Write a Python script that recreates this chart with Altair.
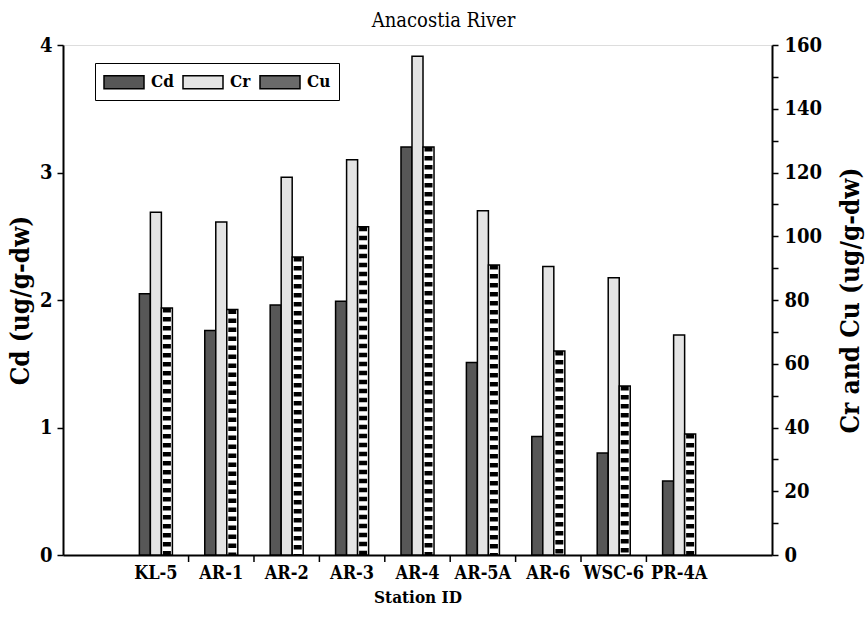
import altair as alt
import pandas as pd

stations = ["KL-5", "AR-1", "AR-2", "AR-3", "AR-4", "AR-5A", "AR-6", "WSC-6", "PR-4A"]
metals = ["Cd", "Cr", "Cu"]
offset_slots = ["_l", "Cd", "Cr", "Cu", "_r"]
cd_vals = [2.05, 1.76, 1.96, 1.99, 3.20, 1.51, 0.93, 0.80, 0.58]
cr_vals = [107.5, 104.5, 118.5, 124, 156.5, 108, 90.5, 87, 69]
cu_vals = [77.5, 77, 93.5, 103, 128, 91, 64, 53, 38]
left_ticks = [0, 0.5, 1, 1.5, 2, 2.5, 3, 3.5, 4]
right_ticks = list(range(0, 161, 10))

cd_df = pd.DataFrame({"station": stations, "metal": "Cd", "value": cd_vals})
rc_df = pd.DataFrame({"station": stations * 2,
                      "metal": ["Cr"] * len(stations) + ["Cu"] * len(stations),
                      "value": cr_vals + cu_vals})
cu_df = pd.DataFrame({"station": stations, "metal": "Cu", "value": cu_vals})
tick_df = pd.DataFrame({"station": stations[1:]})

FONT = "DejaVu Serif Condensed"
W, H = 709, 510

xscale = alt.Scale(domain=stations, paddingInner=0, paddingOuter=0.92)
xoff = alt.Scale(domain=offset_slots, paddingInner=0, paddingOuter=0.47)
xaxis = alt.Axis(title="Station ID", ticks=False, labelAngle=0, labelPadding=9,
                 labelFont=FONT, labelFontSize=18, labelFontWeight="bold", labelColor="black",
                 titleFont=FONT, titleFontSize=17, titleFontWeight="bold", titleColor="black",
                 titlePadding=7, domainColor="black", domainWidth=2)

def X(**kw):
    return alt.X("station:N", scale=xscale, sort=stations, axis=xaxis, **kw)

XO = alt.XOffset("metal:N", scale=xoff)

cd_layer = alt.Chart(cd_df).mark_bar(stroke="black", strokeWidth=1.5).encode(
    x=X(),
    xOffset=XO,
    y=alt.Y("value:Q", scale=alt.Scale(domain=[0, 4], nice=False),
            axis=alt.Axis(orient="left", values=left_ticks, format="d",
                          labelExpr="datum.value % 1 == 0 ? datum.label : ''",
                          title="Cd (ug/g-dw)", grid=False, tickSize=6, tickWidth=1.5,
                          tickColor="black", labelPadding=5,
                          labelFont=FONT, labelFontSize=20, labelFontWeight="bold",
                          labelColor="black", titleFont=FONT, titleFontSize=26,
                          titleFontWeight="bold", titleColor="black", titlePadding=6,
                          domainColor="black", domainWidth=2)),
    fill=alt.Fill("metal:N", scale=alt.Scale(domain=metals,
                                             range=["#575757", "#e4e4e4", "#6a6a6a"]),
                  legend=alt.Legend(orient="none", legendX=32, legendY=18,
                                    direction="horizontal", title=None,
                                    symbolType="M-2,-0.65H2V0.65H-2Z", symbolSize=400,
                                    symbolOffset=10,
                                    symbolStrokeColor="black", symbolStrokeWidth=1.5,
                                    symbolOpacity=1, labelFont=FONT, labelFontSize=17,
                                    labelFontWeight="bold", labelColor="black",
                                    labelOffset=16, columnPadding=6, padding=8,
                                    strokeColor="black", fillColor="white")),
)

right_y = alt.Y("value:Q", scale=alt.Scale(domain=[0, 160], nice=False),
                axis=alt.Axis(orient="right", values=right_ticks,
                              labelExpr="datum.value % 20 == 0 ? datum.label : ''",
                              title="Cr and Cu (ug/g-dw)", titleAngle=270, grid=False,
                              tickSize=6, tickWidth=1.5, tickColor="black", labelPadding=6,
                              labelFont=FONT, labelFontSize=20, labelFontWeight="bold",
                              labelColor="black", titleFont=FONT, titleFontSize=26,
                              titleFontWeight="bold", titleColor="black", titlePadding=42,
                              domainColor="black", domainWidth=2))

rc_layer = alt.Chart(rc_df).mark_bar(stroke="black", strokeWidth=1.5).encode(
    x=X(),
    xOffset=XO,
    y=right_y,
    fill=alt.condition("datum.metal == 'Cu'", alt.value("white"), alt.value("#e4e4e4")),
)

hatch_layer = alt.Chart(cu_df).mark_rule(color="black", strokeWidth=8,
                                         strokeDash=[4.5, 4.5]).encode(
    x=X(),
    xOffset=XO,
    y=right_y,
    y2=alt.datum(0),
)

right = alt.layer(rc_layer, hatch_layer)

tick_layer = alt.Chart(tick_df).mark_rule(color="black", strokeWidth=1.5).encode(
    x=X(bandPosition=0),
    y=alt.value(H),
    y2=alt.value(H + 7),
)

chart = alt.layer(cd_layer, right, tick_layer).resolve_scale(y="independent").properties(
    width=W, height=H,
    title=alt.Title("Anacostia River", font=FONT, fontSize=20, fontWeight="normal",
                    color="black", anchor="middle", offset=4, dx=26),
    padding={"left": 63, "top": 45, "right": 95, "bottom": 69},
    autosize=alt.AutoSizeParams(type="none"),
).configure_view(stroke="black", strokeWidth=2).configure(background="white")

chart.save("out.html", embed_options={"renderer": "svg", "actions": False})
